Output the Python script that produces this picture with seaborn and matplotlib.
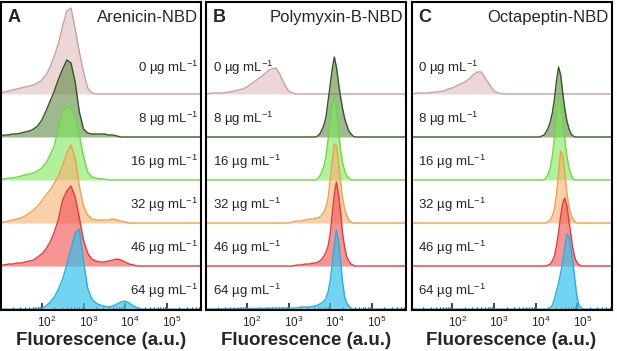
import numpy as np
import matplotlib
matplotlib.use("Agg")
import matplotlib.pyplot as plt
import matplotlib.transforms as mtransforms
from matplotlib.ticker import FixedLocator, LogLocator, NullFormatter
import seaborn as sns

# =======================
# DATA
# =======================
peptides = ["Arenicin-NBD", "Polymyxin-B-NBD", "Octapeptin-NBD"]
panel_letters = ["A", "B", "C"]
concs = [0, 8, 16, 32, 46, 64]  # µg mL-1
major_ticks = [1e2, 1e3, 1e4, 1e5]

# log10 fluorescence bins
are_bins = [1.0, 1.1, 1.2, 1.3, 1.4, 1.5, 1.6, 1.7, 1.8, 1.9, 2.0, 2.1, 2.2, 2.3,
            2.4, 2.5, 2.6, 2.7, 2.8, 2.9, 3.0, 3.1, 3.2, 3.3, 3.4, 3.5, 3.6, 3.7,
            3.8, 3.9, 4.0, 4.1, 4.2, 4.3, 4.4]
low_bins = [1.0, 1.2, 1.4, 1.6, 1.8, 1.9, 2.0, 2.1, 2.2, 2.3, 2.4, 2.5, 2.6, 2.7,
            2.8, 2.9, 3.0, 3.1, 3.2]
pmb_bins = [3.0, 3.1, 3.2, 3.3, 3.4, 3.5, 3.6, 3.65, 3.7, 3.75, 3.8, 3.85, 3.9,
            3.95, 4.0, 4.05, 4.1, 4.15, 4.2, 4.25, 4.3, 4.35, 4.4, 4.45, 4.5,
            4.55, 4.6]
oct_bins = [4.1, 4.15, 4.2, 4.25, 4.3, 4.35, 4.4, 4.45, 4.5, 4.55, 4.6, 4.65,
            4.7, 4.75, 4.8, 4.85, 4.9, 4.95, 5.0, 5.05, 5.1, 5.15]

# relative counts (43 = one row of the ridge plot)
are_0 = [1, 2, 3, 4, 5, 6, 7, 8, 9, 11, 14, 19, 27, 38, 51, 68, 83, 86, 65, 42,
         22, 6, 1, 0, 0, 0, 0, 0, 0, 0, 0, 0, 0, 0, 0]
are_8 = [1, 2, 2, 3, 3, 4, 5, 6, 8, 11, 17, 26, 36, 46, 58, 68, 77, 74, 55, 25,
         8, 4, 3, 3, 3, 3, 2, 2, 1, 0, 0, 0, 0, 0, 0]
are_16 = [1, 1, 2, 2, 3, 4, 5, 6, 7, 9, 12, 17, 25, 34, 52, 68, 73, 72, 62, 45,
          24, 8, 3, 2, 1, 1, 0, 0, 0, 0, 0, 0, 0, 0, 0]
are_32 = [1, 1, 2, 3, 4, 5, 7, 10, 13, 17, 22, 28, 33, 40, 47, 58, 70, 78, 65, 37,
          17, 8, 4, 3, 3, 3, 3, 4, 3, 2, 1, 0, 0, 0, 0]
are_46 = [1, 1, 2, 2, 3, 3, 4, 5, 6, 9, 12, 17, 24, 34, 47, 66, 75, 80, 69, 48,
          26, 13, 7, 5, 4, 4, 5, 6, 7, 6, 4, 2, 1, 0, 0]
are_64 = [0, 0, 0, 0, 0, 0, 0, 0, 0, 1, 1, 3, 7, 12, 20, 30, 45, 60, 76, 80,
          48, 21, 10, 6, 4, 3, 2, 3, 5, 7, 8, 6, 3, 1, 0]

pmb_0 = [0, 1, 1, 2, 4, 5, 7, 10, 13, 16, 19, 23, 25, 26, 19, 10, 3, 1, 0]
pmb_8 = [0, 0, 0, 0, 0, 0, 0, 0, 1, 3, 7, 12, 20, 36, 52, 68, 80, 70, 54, 40,
         28, 18, 12, 6, 3, 1, 0]
pmb_16 = [0, 0, 0, 0, 0, 0, 0, 0, 1, 4, 8, 14, 24, 40, 60, 78, 83, 72, 50, 30,
          17, 9, 4, 2, 0, 0, 0]
pmb_32 = [0, 1, 2, 2, 3, 4, 4, 5, 5, 6, 8, 11, 16, 25, 43, 62, 79, 78, 60, 42,
          24, 14, 7, 3, 1, 0, 0]
pmb_46 = [0, 0, 1, 1, 2, 2, 3, 3, 4, 5, 7, 10, 14, 20, 32, 52, 72, 84, 72, 54,
          32, 18, 9, 5, 2, 1, 0]
pmb_64 = [1, 1, 1, 2, 2, 2, 3, 3, 4, 5, 6, 8, 11, 17, 28, 45, 64, 79, 68, 48,
          26, 12, 6, 3, 1, 0, 0]

oct_0 = [0, 1, 1, 2, 3, 5, 6, 8, 10, 12, 15, 19, 22, 22, 15, 9, 3, 1, 0]
oct_8 = [0, 1, 2, 5, 9, 15, 24, 38, 56, 70, 62, 44, 28, 16, 8, 3, 1, 0, 0, 0, 0, 0]
oct_16 = [0, 0, 0, 2, 6, 12, 24, 42, 66, 82, 78, 60, 40, 24, 12, 5, 1, 0, 0, 0, 0, 0]
oct_32 = [0, 0, 0, 0, 1, 3, 7, 14, 28, 50, 72, 68, 50, 30, 16, 8, 4, 1, 0, 0, 0, 0]
oct_46 = [0, 0, 0, 0, 1, 2, 5, 10, 20, 34, 50, 63, 68, 60, 45, 30, 16, 7, 3, 1, 0, 0]
oct_64 = [0, 0, 0, 0, 0, 1, 4, 10, 18, 26, 36, 48, 62, 75, 72, 60, 45, 26, 10, 3, 1, 0]

panels = [
    [(are_bins, are_0), (are_bins, are_8), (are_bins, are_16),
     (are_bins, are_32), (are_bins, are_46), (are_bins, are_64)],
    [(low_bins, pmb_0), (pmb_bins, pmb_8), (pmb_bins, pmb_16),
     (pmb_bins, pmb_32), (pmb_bins, pmb_46), (pmb_bins, pmb_64)],
    [(low_bins, oct_0), (oct_bins, oct_8), (oct_bins, oct_16),
     (oct_bins, oct_32), (oct_bins, oct_46), (oct_bins, oct_64)],
]

# =======================
# STYLE
# =======================
fill_colors = ["#d4a8a8", "#5f8a45", "#7ee85a", "#f7b26e", "#f25a5a", "#35c3ec"]
line_colors = ["#c9a0a0", "#2f5a1e", "#66dd3c", "#f0a048", "#e43a3a", "#22b0e0"]
fill_alpha = [0.45, 0.6, 0.6, 0.6, 0.65, 0.7]

ROW = 43.0          # counts per ridge row
X_LO, X_HI = 10 ** 1.02, 10 ** 5.82
Y_LO, Y_HI = -0.01, 7.15

sns.set_style("white")
plt.rcParams["font.family"] = ["Liberation Sans", "DejaVu Sans"]
plt.rcParams["mathtext.fontset"] = "custom"
plt.rcParams["mathtext.rm"] = "Liberation Sans"
plt.rcParams["mathtext.it"] = "Liberation Sans:italic"
plt.rcParams["mathtext.bf"] = "Liberation Sans:bold"

W, H = 617, 351
fig = plt.figure(figsize=(W / 100, H / 100), dpi=100)
lefts_px = [1.0, 206.0, 411.5]
width_px = 200.0
top_px, bot_px = 1.5, 309.5
# tick labels sit with the "10" over the tick, exponent hanging right
label_shift = mtransforms.ScaledTranslation(5 / 100, 0, fig.dpi_scale_trans)

for p, (pep, letter, rows) in enumerate(zip(peptides, panel_letters, panels)):
    ax = fig.add_axes([lefts_px[p] / W, 1 - bot_px / H,
                       width_px / W, (bot_px - top_px) / H])
    ax.set_xscale("log")
    trans = mtransforms.blended_transform_factory(ax.transAxes, ax.transData)

    for i, (bins, counts) in enumerate(rows):
        base = len(rows) - 1 - i
        x = np.concatenate([[10 ** 0.9], 10 ** np.asarray(bins), [10 ** 6.0]])
        y = base + np.concatenate([[0], counts, [0]]) / ROW
        ax.fill_between(x, base, y, color=fill_colors[i], alpha=fill_alpha[i],
                        lw=0, zorder=2 + 2 * i)
        sns.lineplot(x=x, y=y, color=line_colors[i], lw=1.0, ax=ax,
                     estimator=None, sort=False, zorder=3 + 2 * i)

        # row label
        dy = 0.6 if i == 0 else 0.42
        lab = f"{concs[i]} µg mL$^{{-1}}$"
        if p == 0:
            ax.text(0.985, base + dy, lab, transform=trans, ha="right",
                    va="center", fontsize=9.5, zorder=20)
        else:
            ax.text(0.035, base + dy, lab, transform=trans, ha="left",
                    va="center", fontsize=9.5, zorder=20)

    ax.set_xlim(X_LO, X_HI)
    ax.set_ylim(Y_LO, Y_HI)
    ax.set_yticks([])
    ax.set_ylabel("")
    ax.xaxis.set_major_locator(FixedLocator(major_ticks))
    ax.xaxis.set_minor_locator(LogLocator(base=10, subs=np.arange(2, 10), numticks=20))
    ax.xaxis.set_minor_formatter(NullFormatter())
    ax.tick_params(axis="x", which="major", direction="in", length=5, width=1.2,
                   labelsize=8.5, pad=4, bottom=True, top=False)
    ax.tick_params(axis="x", which="minor", direction="in", length=2.5, width=0.8,
                   bottom=True, top=False)
    for lbl in ax.get_xticklabels():
        lbl.set_transform(lbl.get_transform() + label_shift)
    for s in ax.spines.values():
        s.set_linewidth(1.5)
        s.set_color("black")
        s.set_zorder(30)
    ax.set_xlabel("Fluorescence (a.u.)", fontsize=13.5, fontweight="bold",
                  labelpad=1)

    ax.text(0.035, 0.947, letter, transform=ax.transAxes, ha="left", va="center",
            fontsize=13, fontweight="bold")
    ax.text(0.985, 0.947, pep, transform=ax.transAxes, ha="right", va="center",
            fontsize=12)

fig.savefig("out.png", dpi=100)
